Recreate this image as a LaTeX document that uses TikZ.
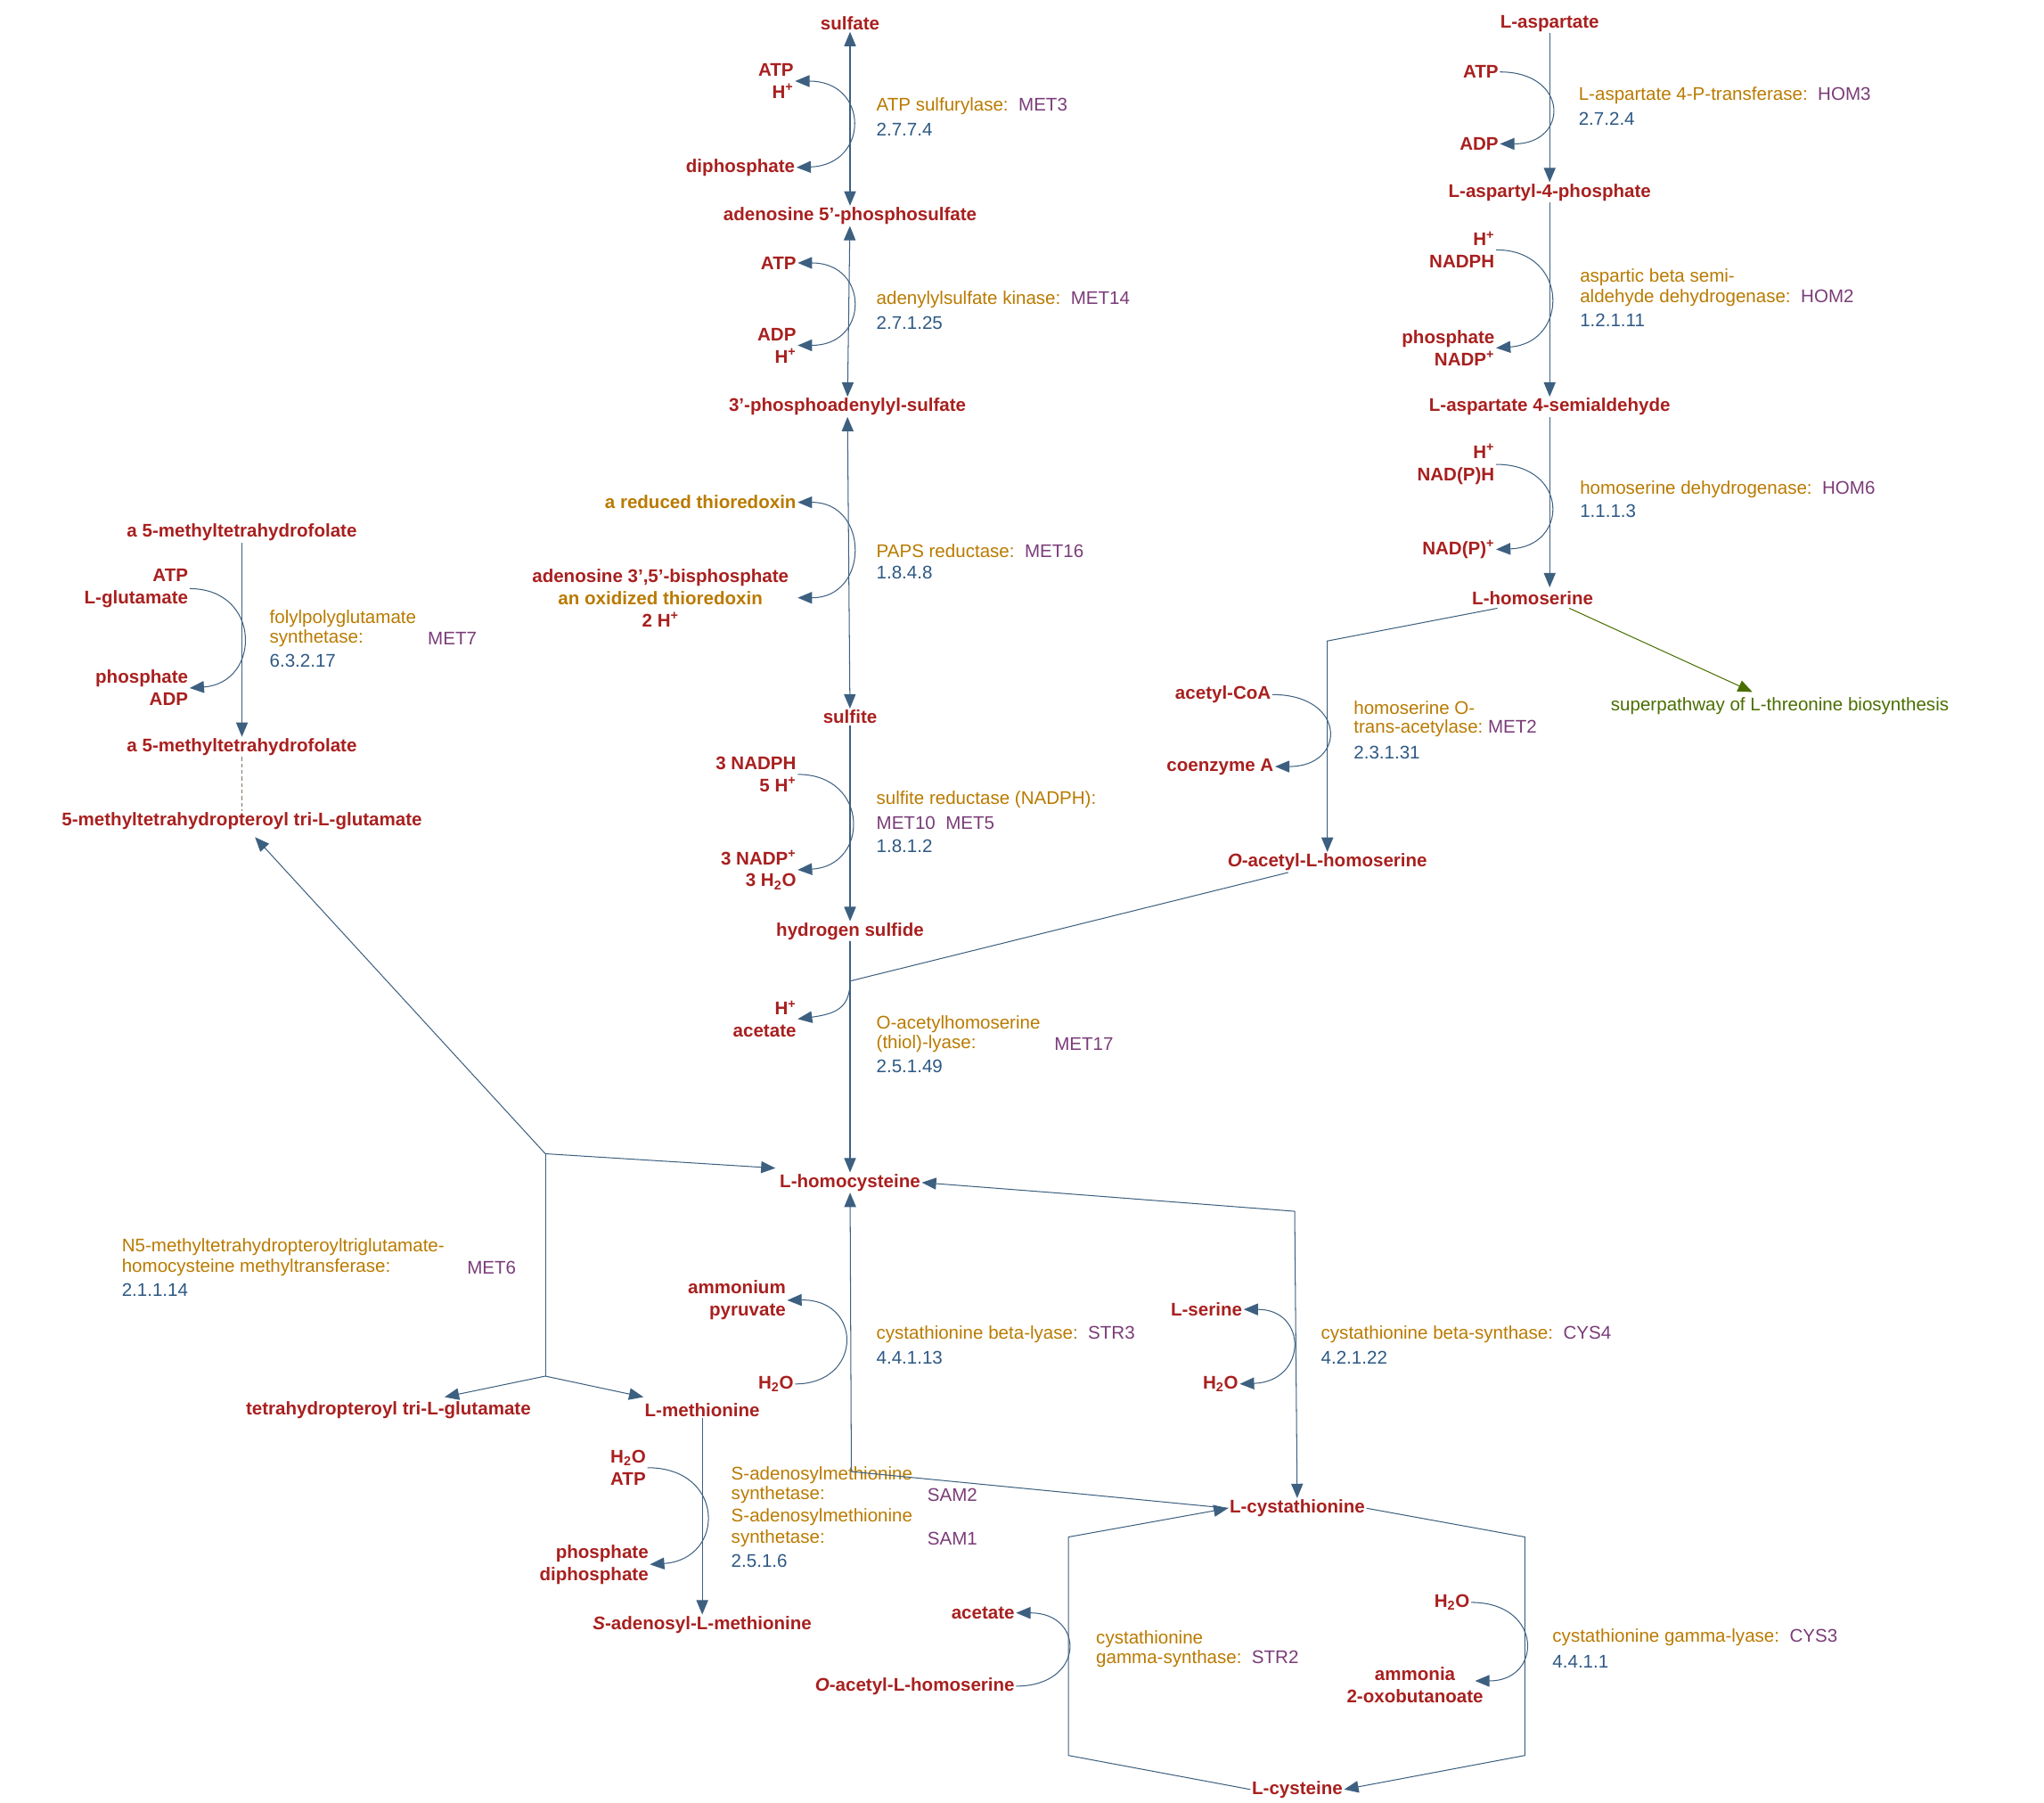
\documentclass[tikz,border=0pt]{standalone}
\usepackage{fontspec}
\setmainfont{Liberation Sans}
\usetikzlibrary{arrows.meta}
\definecolor{met}{HTML}{A8201F}
\definecolor{enz}{HTML}{B97A00}
\definecolor{gen}{HTML}{7A3C78}
\definecolor{ecn}{HTML}{2D5884}
\definecolor{ln}{HTML}{3D6080}
\definecolor{grn}{HTML}{4A6E00}
\newcommand{\sps}{\textsuperscript{+}}
\newcommand{\sbt}{\textsubscript{2}}
\begin{document}
\begin{tikzpicture}[x=1pt,y=-1pt,
 m/.style={text=met,font=\fontsize{14}{17}\selectfont\bfseries,inner sep=1pt,align=center},
 mr/.style={m,align=right,anchor=east},
 e/.style={text=enz,font=\fontsize{14}{17}\selectfont,inner sep=0pt,anchor=west,align=left},
 g/.style={text=gen,font=\fontsize{14}{17}\selectfont,inner sep=0pt,anchor=west},
 ec/.style={text=ecn,font=\fontsize{14}{17}\selectfont,inner sep=0pt,anchor=west},
 l/.style={draw=ln,line width=0.7pt},
 a/.style={l,-{Triangle[length=11,width=9]}},
 ab/.style={l,{Triangle[length=11,width=9]}-{Triangle[length=11,width=9]}}]
\useasboundingbox (0,0) rectangle (1563,1378);
% ---------- column B
\node[m] (sulf) at (650,18) {sulfate};
\node[m] (aps) at (650,165) {adenosine 5'-phosphosulfate};
\node[m] (paps) at (648,311) {3'-phosphoadenylyl-sulfate};
\node[m] (sulfite) at (650,548) {sulfite};
\node[m] (hs) at (650,712) {hydrogen sulfide};
\node[m] (hcy) at (650,904) {L-homocysteine};
\draw[ab] (sulf) -- (aps);
\draw[ab] (aps) -- (paps);
\draw[ab] (paps) -- (sulfite);
\draw[a] (sulfite) -- (hs);
\node[mr] (b1a) at (608,62) {ATP\\H\sps};
\node[mr] (b1b) at (609,128) {diphosphate};
\draw[ab] (b1a.east) .. controls (665,62) and (665,126) .. (b1b.east);
\node[e] at (670,81) {ATP sulfurylase:\ \ \textcolor{gen}{MET3}};
\node[ec] at (670,99) {2.7.7.4};
\node[mr] (b2a) at (610,201) {ATP};
\node[mr] (b2b) at (610,264) {ADP\\H\sps};
\draw[ab] (b2a.east) .. controls (665,201) and (665,264) .. (b2b.east);
\node[e] at (670,229) {adenylylsulfate kinase:\ \ \textcolor{gen}{MET14}};
\node[ec] at (670,247) {2.7.1.25};
\node[mr,text=enz] (b3a) at (610,384) {a reduced thioredoxin};
\node[m] (b3b) at (505,457) {adenosine 3',5'-bisphosphate\\\textcolor{enz}{an oxidized thioredoxin}\\2 H\sps};
\coordinate (b3e) at (610,457);
\draw[ab] (b3a.east) .. controls (665,384) and (665,457) .. (b3e);
\node[e] at (670,421) {PAPS reductase:\ \ \textcolor{gen}{MET16}};
\node[ec] at (670,438) {1.8.4.8};
\node[mr] (b4a) at (610,592) {3 NADPH\\5 H\sps};
\node[mr] (b4b) at (610,665) {3 NADP\sps\\3 H\sbt O};
\draw[a] (b4a.east) .. controls (665,592) and (665,662) .. (b4b.east);
\node[e] at (670,611) {sulfite reductase (NADPH):};
\node[g] at (670,629) {MET10\ \ MET5};
\node[ec] at (670,647) {1.8.1.2};
% ---------- column C
\node[m] (asp) at (1185,18) {L-aspartate};
\node[m] (asp4p) at (1185,147) {L-aspartyl-4-phosphate};
\node[m] (asa) at (1185,311) {L-aspartate 4-semialdehyde};
\node[m] (hser) at (1172,457) {L-homoserine};
\draw[a] (asp) -- (asp4p);
\draw[a] (asp4p) -- (asa);
\draw[a] (asa) -- (1185,449);
\node[mr] (c1a) at (1147,55) {ATP};
\node[mr] (c1b) at (1147,110) {ADP};
\draw[a] (c1a.east) .. controls (1200,55) and (1200,110) .. (c1b.east);
\node[e] at (1207,73) {L-aspartate 4-P-transferase:\ \ \textcolor{gen}{HOM3}};
\node[ec] at (1207,91) {2.7.2.4};
\node[mr] (c2a) at (1144,191) {H\sps\\NADPH};
\node[mr] (c2b) at (1144,266) {phosphate\\NADP\sps};
\draw[a] (c2a.east) .. controls (1200,191) and (1200,262) .. (c2b.east);
\node[e] at (1208,212) {aspartic beta semi-};
\node[e] at (1208,228) {aldehyde dehydrogenase:\ \ \textcolor{gen}{HOM2}};
\node[ec] at (1208,245) {1.2.1.11};
\node[mr] (c3a) at (1144,355) {H\sps\\NAD(P)H};
\node[mr] (c3b) at (1144,420) {NAD(P)\sps};
\draw[a] (c3a.east) .. controls (1200,355) and (1200,418) .. (c3b.east);
\node[e] at (1208,374) {homoserine dehydrogenase:\ \ \textcolor{gen}{HOM6}};
\node[ec] at (1208,391) {1.1.1.3};
\node[m,font=\fontsize{14}{17}\selectfont,text=grn] (thr) at (1361,540) {superpathway of L-threonine biosynthesis};
\draw[draw=grn,line width=0.7pt,-{Triangle[length=11,width=9]}] (1200,465) -- (1340,529);
\node[m] (oah) at (1015,659) {\textit{O}-acetyl-L-homoserine};
\coordinate (c4k) at (1015,490);
\draw[a] (1145,465) -- (c4k) -- (oah);
\node[mr] (c4a) at (973,531) {acetyl-CoA};
\node[mr] (c4b) at (975,586) {coenzyme A};
\draw[a] (c4a.east) .. controls (1030,531) and (1030,586) .. (c4b.east);
\node[e] at (1035,541) {homoserine O-};
\node[e] at (1035,557) {trans-acetylase:\ \textcolor{gen}{MET2}};
\node[ec] at (1035,575) {2.3.1.31};
% ---------- MET17
\coordinate (j17) at (650,750);
\draw[l] (985,667) -- (j17);
\draw[a] (hs) -- (hcy);
\node[mr] (d1) at (610,779) {H\sps\\acetate};
\draw[a] (j17) .. controls (650,770) and (640,775) .. (d1.east);
\node[e] at (670,783) {O-acetylhomoserine};
\node[e] at (670,798) {(thiol)-lyase:};
\node[g] at (806,798) {MET17};
\node[ec] at (670,815) {2.5.1.49};
% ---------- left column
\node[m] (mthf) at (185,407) {a 5-methyltetrahydrofolate};
\node[m] (mthf2) at (185,571) {a 5-methyltetrahydrofolate};
\node[m] (mthpt) at (185,628) {5-methyltetrahydropteroyl tri-L-glutamate};
\draw[a] (mthf) -- (mthf2);
\draw[draw=ln!50!brown,densely dashed,line width=0.7pt] (mthf2) -- (mthpt);
\node[mr] (a1a) at (145,450) {ATP\\L-glutamate};
\node[mr] (a1b) at (145,526) {phosphate\\ADP};
\draw[a] (a1a.east) .. controls (200,450) and (200,522) .. (a1b.east);
\node[e] at (206,473) {folylpolyglutamate};
\node[e] at (206,488) {synthetase:};
\node[g] at (327,488) {MET7};
\node[ec] at (206,505) {6.3.2.17};
% ---------- MET6
\coordinate (k1) at (417,882);
\coordinate (k2) at (417,1052);
\node[m] (thpt) at (297,1078) {tetrahydropteroyl tri-L-glutamate};
\node[m] (met) at (537,1078) {L-methionine};
\draw[a] (k1) -- (195,640);
\draw[a] (k1) -- (593,893);
\draw[l] (k1) -- (k2);
\draw[a] (k2) -- (340,1068);
\draw[a] (k2) -- (492,1068);
\node[e] at (93,953) {N5-methyltetrahydropteroyltriglutamate-};
\node[e] at (93,969) {homocysteine methyltransferase:};
\node[g] at (357,969) {MET6};
\node[ec] at (93,986) {2.1.1.14};
% ---------- SAM
\node[m] (sam) at (537,1242) {\textit{S}-adenosyl-L-methionine};
\draw[a] (met) -- (sam);
\node[mr] (s1a) at (495,1122) {H\sbt O\\ATP};
\node[mr] (s1b) at (497,1196) {phosphate\\diphosphate};
\draw[a] (s1a.east) .. controls (555,1122) and (555,1192) .. (s1b.east);
\node[e] at (559,1128) {S-adenosylmethionine};
\node[e] at (559,1143) {synthetase:};
\node[g] at (709,1143) {SAM2};
\node[e] at (559,1160) {S-adenosylmethionine};
\node[e] at (559,1176) {synthetase:};
\node[g] at (709,1176) {SAM1};
\node[ec] at (559,1193) {2.5.1.6};
% ---------- STR3 / CYS4
\node[m] (cth) at (992,1153) {L-cystathionine};
\node[m] (cys) at (992,1368) {L-cysteine};
\coordinate (j3) at (651,1125);
\draw[l] (cth.west) -- (j3);
\draw[a] (j3) -- (hcy);
\node[mr] (e1a) at (602,994) {ammonium\\pyruvate};
\node[mr] (e1b) at (608,1058) {H\sbt O};
\draw[a] (e1b.east) .. controls (660,1058) and (660,993) .. (e1a.east);
\node[e] at (670,1020) {cystathionine beta-lyase:\ \ \textcolor{gen}{STR3}};
\node[ec] at (670,1038) {4.4.1.13};
\coordinate (j4) at (990,926);
\draw[ab] (hcy.east) -- (j4) -- (cth);
\node[mr] (f1a) at (951,1001) {L-serine};
\node[mr] (f1b) at (948,1058) {H\sbt O};
\draw[ab] (f1a.east) .. controls (1000,1001) and (1000,1056) .. (f1b.east);
\node[e] at (1010,1020) {cystathionine beta-synthase:\ \ \textcolor{gen}{CYS4}};
\node[ec] at (1010,1038) {4.2.1.22};
% ---------- CYS3
\coordinate (g1) at (1166,1175);
\coordinate (g2) at (1166,1342);
\draw[a] (cth.east) -- (g1) -- (g2) -- (cys.east);
\node[mr] (g3a) at (1125,1225) {H\sbt O};
\node[m] (g3b) at (1082,1288) {ammonia\\2-oxobutanoate};
\coordinate (g3e) at (1128,1285);
\draw[a] (g3a.east) .. controls (1180,1225) and (1180,1285) .. (g3e);
\node[e] at (1187,1252) {cystathionine gamma-lyase:\ \ \textcolor{gen}{CYS3}};
\node[ec] at (1187,1270) {4.4.1.1};
% ---------- STR2
\coordinate (h1) at (817,1342);
\coordinate (h2) at (817,1175);
\draw[a] (cys.west) -- (h1) -- (h2) -- (cth.west);
\node[mr] (h3a) at (777,1233) {acetate};
\node[mr] (h3b) at (777,1289) {\textit{O}-acetyl-L-homoserine};
\draw[a] (h3b.east) .. controls (830,1289) and (830,1233) .. (h3a.east);
\node[e] at (838,1253) {cystathionine};
\node[e] at (838,1268) {gamma-synthase:\ \ \textcolor{gen}{STR2}};
\end{tikzpicture}
\end{document}
